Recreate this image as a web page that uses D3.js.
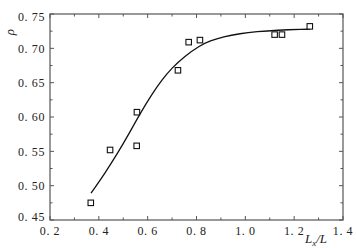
<!DOCTYPE html>
<html>
<head>
<meta charset="utf-8">
<script src="https://cdn.jsdelivr.net/npm/d3@7"></script>
<style>
  body { margin: 0; background: #fff; }
  svg text { font-family: "Liberation Serif", "DejaVu Serif", serif; fill: #222; }
</style>
</head>
<body>
<svg id="chart" width="356" height="248"></svg>
<script>
// measured points (squares)
var pointX = [0.367, 0.446, 0.555, 0.556, 0.724, 0.768, 0.814, 1.120, 1.150, 1.264];
var pointY = [0.475, 0.552, 0.558, 0.607, 0.668, 0.709, 0.712, 0.720, 0.720, 0.732];

// fitted curve
var curveX = [0.368, 0.425, 0.480, 0.521, 0.569, 0.617, 0.658, 0.698, 0.753, 0.814, 0.855, 0.910, 0.978, 1.047, 1.129, 1.238, 1.265];
var curveY = [0.489, 0.518, 0.549, 0.574, 0.605, 0.633, 0.654, 0.671, 0.689, 0.704, 0.711, 0.717, 0.7215, 0.7243, 0.7265, 0.7277, 0.7278];

var xTicks = [0.2, 0.4, 0.6, 0.8, 1.0, 1.2, 1.4];
var xTickLabels = ['0. 2', '0. 4', '0. 6', '0. 8', '1. 0', '1. 2', '1. 4'];
var yTicks = [0.45, 0.50, 0.55, 0.60, 0.65, 0.70, 0.75];
var yTickLabels = ['0. 45', '0. 50', '0. 55', '0. 60', '0. 65', '0. 70', '0. 75'];

var svg = d3.select('#chart'),
    margin = {left: 50, top: 14, right: 13, bottom: 28},
    width = 356 - margin.left - margin.right,
    height = 248 - margin.top - margin.bottom;

var x = d3.scaleLinear().domain([0.2, 1.4]).range([0, width]);
var y = d3.scaleLinear().domain([0.45, 0.75]).range([height, 0]);

var g = svg.append('g').attr('transform', 'translate(' + margin.left + ',' + margin.top + ')');

var xMinor = d3.range(0.3, 1.4, 0.2);
var yMinor = d3.range(0.475, 0.75, 0.05);
var axisColor = '#555';

// frame
g.append('rect')
    .attr('width', width).attr('height', height)
    .attr('fill', 'none').attr('stroke', axisColor).attr('stroke-width', 1.2);

// inward ticks on all four sides
function tickLines(vals, len, side) {
  g.append('g').selectAll('line').data(vals).enter().append('line')
      .attr('stroke', axisColor).attr('stroke-width', 1)
      .each(function (d) {
        var l = d3.select(this);
        if (side === 'bottom') l.attr('x1', x(d)).attr('x2', x(d)).attr('y1', height).attr('y2', height - len);
        if (side === 'top') l.attr('x1', x(d)).attr('x2', x(d)).attr('y1', 0).attr('y2', len);
        if (side === 'left') l.attr('y1', y(d)).attr('y2', y(d)).attr('x1', 0).attr('x2', len);
        if (side === 'right') l.attr('y1', y(d)).attr('y2', y(d)).attr('x1', width).attr('x2', width - len);
      });
}
['bottom', 'top'].forEach(function (s) { tickLines(xTicks, 4, s); tickLines(xMinor, 2.5, s); });
['left', 'right'].forEach(function (s) { tickLines(yTicks, 4, s); tickLines(yMinor, 2.5, s); });

// tick labels
g.append('g').selectAll('text').data(xTicks).enter().append('text')
    .attr('x', function (d) { return x(d); })
    .attr('y', height + 15)
    .attr('text-anchor', 'middle')
    .attr('font-size', 12)
    .attr('letter-spacing', 0.6)
    .style('white-space', 'pre')
    .text(function (d, i) { return xTickLabels[i]; });

g.append('g').selectAll('text').data(yTicks).enter().append('text')
    .attr('x', -5)
    .attr('y', function (d, i) {
      var off = 0;
      if (i === 0) off = -3;
      if (i === yTicks.length - 1) off = 3;
      return y(d) + off;
    })
    .attr('dy', '0.35em')
    .attr('text-anchor', 'end')
    .attr('font-size', 12)
    .attr('letter-spacing', 0.6)
    .style('white-space', 'pre')
    .text(function (d, i) { return yTickLabels[i]; });

// curve
var line = d3.line()
    .x(function (d) { return x(d[0]); })
    .y(function (d) { return y(d[1]); })
    .curve(d3.curveBasis);

g.append('path')
    .datum(d3.zip(curveX, curveY))
    .attr('d', line)
    .attr('fill', 'none')
    .attr('stroke', '#111')
    .attr('stroke-width', 1.3);

// squares
var sz = 5.5;
g.append('g').selectAll('rect').data(d3.zip(pointX, pointY)).enter().append('rect')
    .attr('x', function (d) { return x(d[0]) - sz / 2; })
    .attr('y', function (d) { return y(d[1]) - sz / 2; })
    .attr('width', sz).attr('height', sz)
    .attr('fill', '#fff').attr('stroke', '#111').attr('stroke-width', 1.1);

// axis titles
svg.append('text')
    .attr('transform', 'translate(14,32) rotate(-90)')
    .attr('text-anchor', 'middle')
    .attr('font-size', 13)
    .attr('font-style', 'italic')
    .text('ρ');

var xt = svg.append('text')
    .attr('x', 316).attr('y', 243)
    .attr('text-anchor', 'middle')
    .attr('font-size', 13)
    .attr('font-style', 'italic');
xt.append('tspan').text('L');
xt.append('tspan').attr('font-size', 9).attr('dy', 3).text('x');
xt.append('tspan').attr('dy', -3).text('/L');
</script>
</body>
</html>
